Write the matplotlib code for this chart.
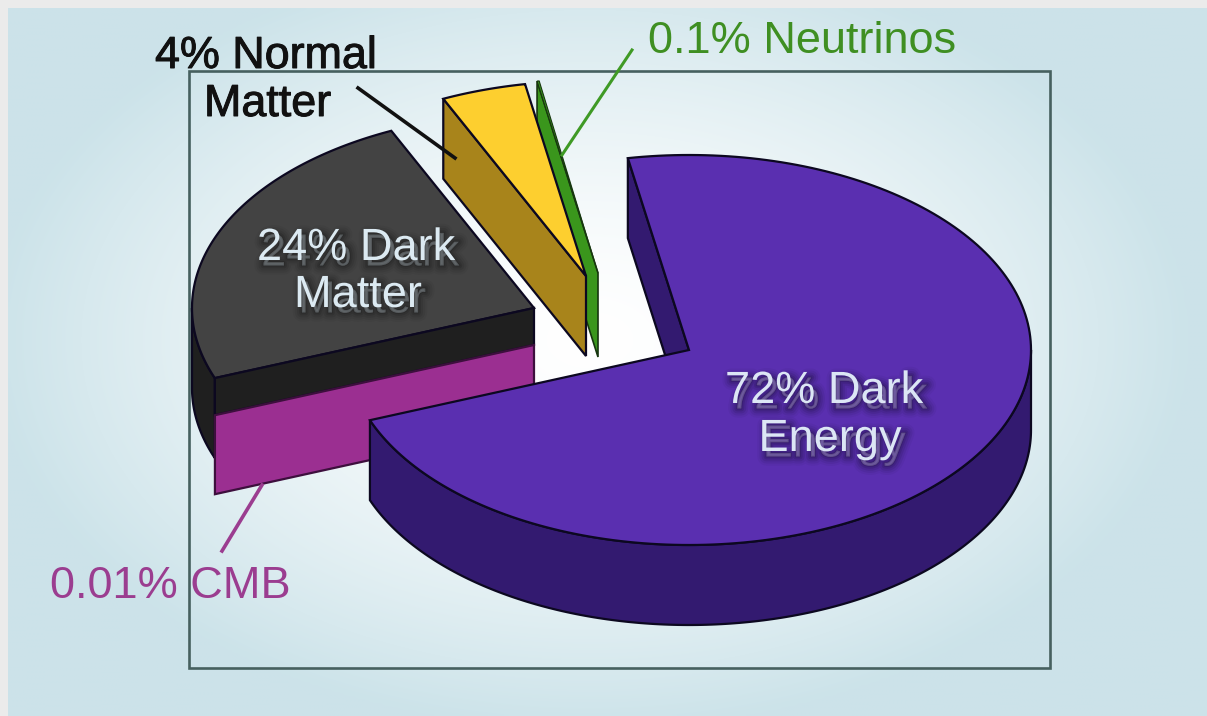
import numpy as np
import matplotlib
matplotlib.use("Agg")
import matplotlib.pyplot as plt
from matplotlib.patches import Polygon, Rectangle
import matplotlib.patheffects as pe

plt.rcParams['font.family'] = ['Liberation Sans', 'DejaVu Sans']

# shares of the pie, in the order they run clockwise
names = ['Dark Energy', 'CMB', 'Dark Matter', 'Normal Matter', 'Neutrinos']
percents = [72, 0.01, 24, 4, 0.1]

top_colors = ['#5a2fb0', '#9b2f91', '#434343', '#fdcf2f', '#3a961c']
side_colors = ['#331a70', '#9b2f91', '#1f1f1f', '#a8841b', '#3a961c']

# where each slice's point sits once the pie is pulled apart
apex_x = [689, 534, 534, 586, 598]
apex_y = [350, 345, 308, 276, 273]
depths = [80, 79, 80, 80, 84]

start_angle = 100.3
rx, ry = 342, 195
edge = '#0c0820'

ends = start_angle - np.cumsum(percents) * 3.6
starts = np.concatenate([[start_angle], ends[:-1]])


def rim(i, t0, t1, n=200):
    t = np.radians(np.linspace(t0, t1, n))
    return np.column_stack([apex_x[i] + rx * np.cos(t), apex_y[i] - ry * np.sin(t)])


def poly(pts, color, lw=1.6, ec=edge):
    ax.add_patch(Polygon(pts, closed=True, fc=color, ec=ec, lw=lw, joinstyle='miter'))


def top_face(i, ec=edge, lw=1.6):
    pts = np.vstack([[[apex_x[i], apex_y[i]]], rim(i, starts[i], ends[i])])
    poly(pts, top_colors[i], lw=lw, ec=ec)


def cut_face(i, angle, depth, ec=edge, lw=1.6):
    p = rim(i, angle, angle, 1)[0]
    a = np.array([apex_x[i], apex_y[i]])
    d = np.array([0, depth])
    poly([a, p, p + d, a + d], side_colors[i], ec=ec, lw=lw)


def outer_side(i, t0, t1):
    r = rim(i, t0, t1)
    poly(np.vstack([r, r[::-1] + [0, depths[i]]]), side_colors[i])


fig = plt.figure(figsize=(12.07, 7.16), dpi=100, facecolor='#ebebeb')
ax = fig.add_axes([0, 0, 1, 1])
ax.set_xlim(0, 1207)
ax.set_ylim(716, 0)
ax.axis('off')

# soft glow behind the pie
gx, gy = np.meshgrid(np.linspace(8, 1207, 300), np.linspace(8, 716, 200))
glow = np.clip(np.hypot((gx - 590) / 600, (gy - 340) / 390), 0, 1) ** 1.5
c_in = np.array([1.0, 1.0, 1.0])
c_out = np.array([0.80, 0.89, 0.915])
bg = c_in + (c_out - c_in) * glow[..., None]
ax.imshow(bg, extent=(8, 1207, 716, 8), aspect='auto', interpolation='bilinear', zorder=0)
ax.set_xlim(0, 1207)
ax.set_ylim(716, 0)

ax.add_patch(Rectangle((189, 71), 861, 597, fill=False, ec='#46605f', lw=1.9))

# leader lines that run behind the slices
ax.plot([632, 562], [50, 155], color='#3f9a25', lw=2.2)
ax.plot([262, 222], [485, 551], color='#9b3d90', lw=2.6)

# dark matter block
outer_side(2, 180, starts[2] + 360)
top_face(2)
cut_face(2, starts[2], 37)
cut_face(1, starts[1], depths[1], ec='#3d0f3d')

# neutrinos, then normal matter in front of it
cut_face(4, starts[4], depths[4], ec='#17360f', lw=1.2)
top_face(4, ec='#17360f', lw=0.8)
cut_face(3, starts[3], depths[3])
top_face(3)
ax.plot([358, 455], [88, 158], color='#111111', lw=2.6)

# dark energy
cut_face(0, starts[0], depths[0])
outer_side(0, ends[0], 0)
top_face(0)

glow_fx = [pe.Stroke(linewidth=w, foreground='black', alpha=a, offset=(3, -4))
           for w, a in [(13, 0.04), (10, 0.06), (7, 0.08), (4, 0.10), (1.5, 0.12)]]
glow_fx += [pe.Normal()]
heavier = [pe.withStroke(linewidth=0.7, foreground='#111111')]

ax.text(356, 260, '24% Dark', ha='center', va='baseline', fontsize=32.5, color='#dceaf2', path_effects=glow_fx)
ax.text(358, 307, 'Matter', ha='center', va='baseline', fontsize=32.5, color='#dceaf2', path_effects=glow_fx)
ax.text(824, 403, '72% Dark', ha='center', va='baseline', fontsize=32.5, color='#dce6f5', path_effects=glow_fx)
ax.text(830, 451, 'Energy', ha='center', va='baseline', fontsize=32.5, color='#dce6f5', path_effects=glow_fx)

ax.text(155, 68, '4% Normal', va='baseline', fontsize=32.3, color='#111111', path_effects=heavier)
ax.text(204, 116, 'Matter', va='baseline', fontsize=32.3, color='#111111', path_effects=heavier)
ax.text(648, 53, '0.1% Neutrinos', va='baseline', fontsize=32.5, color='#3f8f22')
ax.text(50, 598, '0.01% CMB', va='baseline', fontsize=32.5, color='#9b3d90')

fig.savefig('out.png', dpi=100, facecolor=fig.get_facecolor())
